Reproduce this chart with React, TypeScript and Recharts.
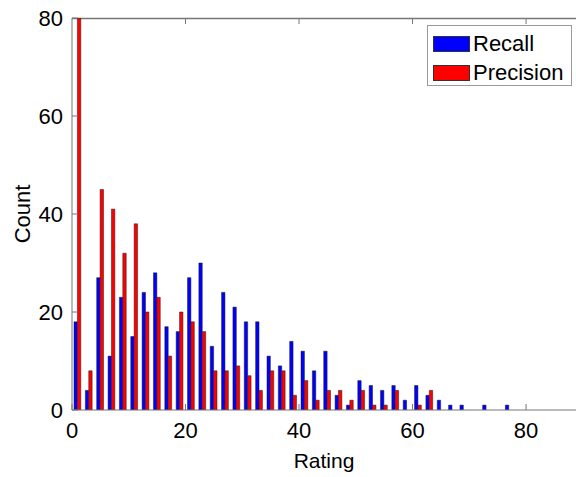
import React from 'react';
import { BarChart, Bar, XAxis, YAxis, Legend, Customized } from 'recharts';

// bin centres (bins of width 2 on the rating axis)
const ratingBins = [
  1, 3, 5, 7, 9, 11, 13, 15, 17, 19, 21, 23, 25, 27, 29, 31, 33, 35, 37, 39, 41, 43,
  45, 47, 49, 51, 53, 55, 57, 59, 61, 63, 65, 67, 69, 71, 73, 75, 77, 79, 81, 83, 85, 87,
];
const recallCounts = [
  18, 4, 27, 11, 23, 15, 24, 28, 17, 16, 27, 30, 13, 24, 21, 18, 18, 11, 9, 14, 12, 8,
  12, 3, 1, 6, 5, 4, 5, 2, 5, 3, 2, 1, 1, 0, 1, 0, 1, 0, 0, 0, 0, 0,
];
const precisionCounts = [
  80, 8, 45, 41, 32, 38, 20, 23, 11, 20, 18, 16, 8, 8, 9, 7, 4, 8, 8, 3, 6, 2,
  4, 4, 2, 4, 1, 1, 4, 0, 1, 4, 0, 0, 0, 0, 0, 0, 0, 0, 0, 0, 0, 0,
];
const xTicks = [0, 20, 40, 60, 80];
const yTicks = [0, 20, 40, 60, 80];

const data = ratingBins.map((r, i) => ({
  rating: r,
  recall: recallCounts[i],
  precision: precisionCounts[i],
}));

const FONT = '"Liberation Sans", Arial, Helvetica, sans-serif';
const AXIS = '#777777';
const X_MAX = 88.8;
const PLOT_LEFT = 72;
const PLOT_TOP = 18;
const PLOT_W = 576 - PLOT_LEFT;

const YTick = (props: any) => {
  const { x, y, payload } = props;
  return (
    <g>
      <text x={x} y={y} dy="0.36em" textAnchor="end" fontSize={22} fontFamily={FONT} fill="#000">
        {payload.value}
      </text>
      <line x1={x + 9} x2={x + 15} y1={y} y2={y} stroke={AXIS} />
    </g>
  );
};

const XTick = (props: any) => {
  const { x, y, payload } = props;
  return (
    <g>
      <text x={x} y={y} dy="0.72em" textAnchor="middle" fontSize={22} fontFamily={FONT} fill="#000">
        {payload.value}
      </text>
      <line x1={x} x2={x} y1={y - 12} y2={y - 18} stroke={AXIS} />
    </g>
  );
};

const CountLabel = (props: any) => {
  const vb = props.viewBox;
  const cx = 30;
  const cy = vb.y + vb.height / 2;
  return (
    <text
      x={cx}
      y={cy}
      transform={`rotate(-90 ${cx} ${cy})`}
      textAnchor="middle"
      fontSize={22}
      fontFamily={FONT}
      fill="#000"
    >
      Count
    </text>
  );
};

// top edge of the axes box, with inward ticks
const TopFrame = () => (
  <g>
    <line x1={PLOT_LEFT} x2={PLOT_LEFT + PLOT_W} y1={PLOT_TOP + 0.5} y2={PLOT_TOP + 0.5} stroke={AXIS} strokeWidth={1.5} />
    {xTicks.slice(1).map((t) => {
      const x = PLOT_LEFT + (t / X_MAX) * PLOT_W;
      return <line key={t} x1={x} x2={x} y1={PLOT_TOP} y2={PLOT_TOP + 6} stroke={AXIS} />;
    })}
  </g>
);

const LegendBox = () => (
  <div
    style={{
      border: '1px solid #9a9a9a',
      background: '#fff',
      width: 145,
      height: 61,
      boxSizing: 'border-box',
      fontFamily: FONT,
      fontSize: 22,
      color: '#000',
      padding: '5px 0 0 5px',
    }}
  >
    {[
      { name: 'Recall', color: '#0000ff' },
      { name: 'Precision', color: '#ff0000' },
    ].map((s) => (
      <div key={s.name} style={{ display: 'flex', alignItems: 'center', height: 25, marginBottom: 4 }}>
        <span style={{ display: 'inline-block', width: 37, height: 16, background: s.color, border: '1px solid #333', boxSizing: 'border-box', marginRight: 3 }} />
        <span style={{ lineHeight: '25px' }}>{s.name}</span>
      </div>
    ))}
  </div>
);

export default function App() {
  return (
    <div style={{ position: 'absolute', left: 0, top: 0, width: 576, height: 477, background: '#fff' }}>
      <BarChart
        width={576}
        height={477}
        data={data}
        margin={{ top: PLOT_TOP, right: 0, left: 0, bottom: 0 }}
        barGap={0}
      >
        <XAxis
          dataKey="rating"
          type="number"
          domain={[0, X_MAX]}
          allowDataOverflow
          ticks={xTicks}
          interval={0}
          height={67}
          tickSize={0}
          tickMargin={12}
          tick={<XTick />}
          tickLine={false}
          axisLine={{ stroke: AXIS }}
          label={{ value: 'Rating', position: 'insideBottom', offset: 9, fontSize: 21, fontFamily: FONT, fill: '#000' }}
        />
        <YAxis
          type="number"
          domain={[0, 80]}
          allowDataOverflow
          ticks={yTicks}
          interval={0}
          width={PLOT_LEFT}
          tickSize={0}
          tickMargin={9}
          tick={<YTick />}
          tickLine={false}
          axisLine={{ stroke: AXIS }}
          label={CountLabel}
        />
        <Legend
          layout="horizontal"
          verticalAlign="middle"
          align="center"
          content={<LegendBox />}
          wrapperStyle={{ left: 427, top: 25, width: 145 }}
        />
        <Bar dataKey="recall" name="Recall" fill="#0000ff" stroke="#1a1a1a" strokeWidth={0.5} barSize={3.4} isAnimationActive={false} />
        <Bar dataKey="precision" name="Precision" fill="#ff0000" stroke="#1a1a1a" strokeWidth={0.5} barSize={3.4} isAnimationActive={false} />
        <Customized component={<TopFrame />} />
      </BarChart>
    </div>
  );
}
